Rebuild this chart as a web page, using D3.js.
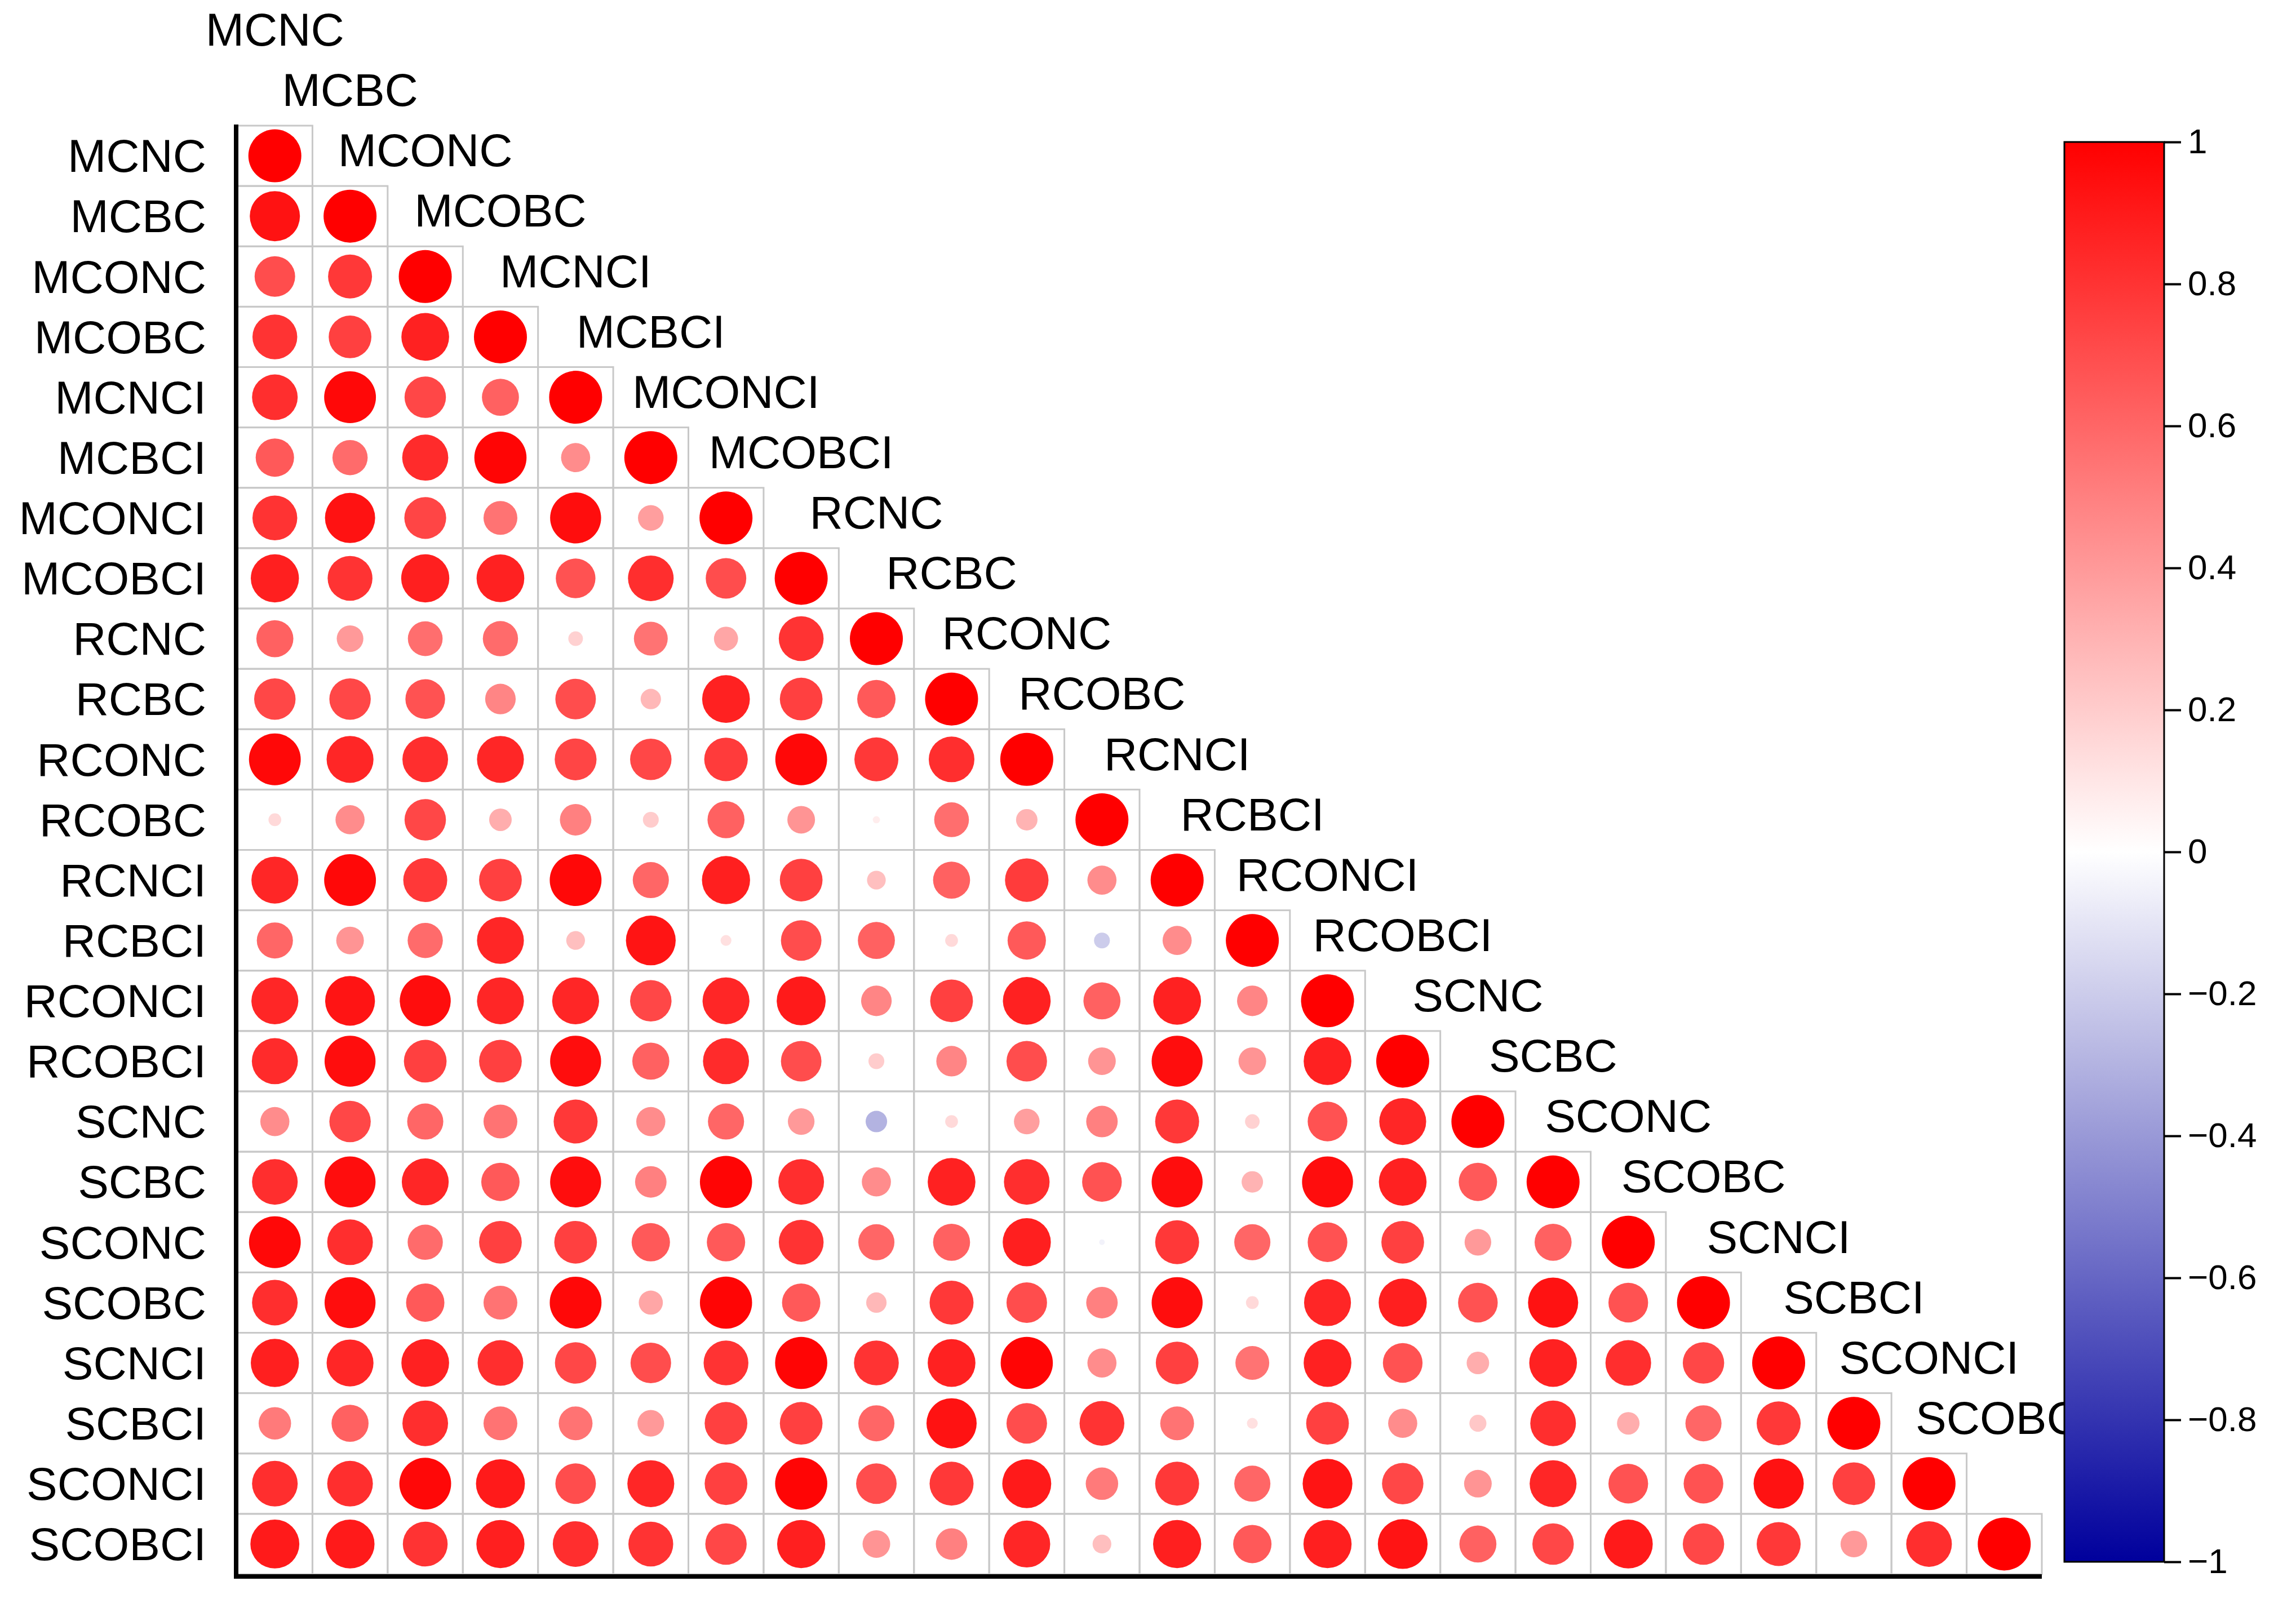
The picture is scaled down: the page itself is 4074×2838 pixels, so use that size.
<!DOCTYPE html>
<html>
<head>
<meta charset="utf-8">
<script src="https://cdn.jsdelivr.net/npm/d3@7"></script>
<style>
body { margin: 0; background: #fff; }
text { font-family: "Liberation Sans", Arial, sans-serif; }
</style>
</head>
<body>
<script>
var vars = ['MCNC','MCBC','MCONC','MCOBC','MCNCI','MCBCI','MCONCI','MCOBCI',
            'RCNC','RCBC','RCONC','RCOBC','RCNCI','RCBCI','RCONCI','RCOBCI',
            'SCNC','SCBC','SCONC','SCOBC','SCNCI','SCBCI','SCONCI','SCOBCI']

// lower triangle rows, diagonal included
var corr = [
  [1],
  [0.93, 1],
  [0.7, 0.78, 1],
  [0.8, 0.75, 0.87, 1],
  [0.82, 0.97, 0.72, 0.62, 1],
  [0.65, 0.58, 0.83, 0.98, 0.45, 1],
  [0.8, 0.93, 0.73, 0.55, 0.95, 0.38, 1],
  [0.88, 0.8, 0.88, 0.87, 0.68, 0.82, 0.7, 1],
  [0.62, 0.4, 0.57, 0.58, 0.18, 0.55, 0.35, 0.8, 1],
  [0.72, 0.72, 0.68, 0.48, 0.7, 0.28, 0.87, 0.75, 0.65, 1],
  [0.97, 0.85, 0.82, 0.85, 0.73, 0.72, 0.77, 0.97, 0.78, 0.82, 1],
  [0.15, 0.45, 0.72, 0.32, 0.5, 0.2, 0.62, 0.42, 0.07, 0.57, 0.3, 1],
  [0.85, 0.97, 0.78, 0.75, 0.97, 0.6, 0.88, 0.75, 0.25, 0.62, 0.77, 0.45, 1],
  [0.6, 0.42, 0.58, 0.85, 0.25, 0.92, 0.12, 0.7, 0.62, 0.15, 0.65, -0.2, 0.45, 1],
  [0.85, 0.92, 0.95, 0.85, 0.85, 0.72, 0.85, 0.9, 0.48, 0.75, 0.87, 0.62, 0.87, 0.48, 1],
  [0.83, 0.95, 0.75, 0.75, 0.95, 0.62, 0.83, 0.7, 0.2, 0.48, 0.7, 0.42, 0.95, 0.42, 0.87, 1],
  [0.45, 0.72, 0.6, 0.55, 0.78, 0.45, 0.6, 0.4, -0.3, 0.15, 0.38, 0.5, 0.78, 0.18, 0.68, 0.85, 1],
  [0.82, 0.95, 0.85, 0.65, 0.95, 0.5, 0.98, 0.82, 0.45, 0.87, 0.82, 0.68, 0.95, 0.3, 0.95, 0.87, 0.65, 1],
  [0.97, 0.82, 0.58, 0.75, 0.75, 0.65, 0.65, 0.8, 0.6, 0.62, 0.88, -0.05, 0.78, 0.6, 0.68, 0.75, 0.4, 0.62, 1],
  [0.82, 0.95, 0.65, 0.55, 0.97, 0.35, 0.98, 0.65, 0.28, 0.78, 0.7, 0.5, 0.95, 0.15, 0.85, 0.88, 0.68, 0.93, 0.68, 1],
  [0.88, 0.85, 0.87, 0.82, 0.72, 0.7, 0.8, 0.98, 0.8, 0.87, 0.98, 0.45, 0.75, 0.55, 0.87, 0.68, 0.32, 0.87, 0.82, 0.72, 1],
  [0.52, 0.62, 0.82, 0.55, 0.55, 0.4, 0.75, 0.75, 0.6, 0.93, 0.7, 0.8, 0.55, 0.12, 0.75, 0.45, 0.22, 0.82, 0.32, 0.6, 0.78, 1],
  [0.82, 0.82, 0.97, 0.9, 0.7, 0.85, 0.75, 0.98, 0.7, 0.78, 0.9, 0.52, 0.78, 0.6, 0.92, 0.72, 0.42, 0.85, 0.68, 0.68, 0.93, 0.75, 1],
  [0.9, 0.9, 0.8, 0.88, 0.82, 0.8, 0.72, 0.88, 0.42, 0.5, 0.85, 0.25, 0.88, 0.65, 0.88, 0.92, 0.62, 0.72, 0.9, 0.72, 0.78, 0.4, 0.82, 1]
]

var barTicks = [1, 0.8, 0.6, 0.4, 0.2, 0, -0.2, -0.4, -0.6, -0.8, -1]

var W = 4074, H = 2838
var n = vars.length

var x = d3.scaleLinear().domain([0, n]).range([421, 3623])
var y = d3.scaleLinear().domain([0, n]).range([223, 2794])
var cw = x(1) - x(0), ch = y(1) - y(0)

var color = d3.scaleLinear()
    .domain([-1, 0, 1])
    .range(['#00009c', '#ffffff', '#ff0000'])
var rad = d3.scalePow().exponent(0.75).domain([0, 1]).range([0, 47])

var cells = []
corr.forEach(function(row, i) {
  row.forEach(function(v, j) { cells.push({i: i, j: j, v: v}) })
})

var svg = d3.select('body').append('svg')
    .attr('width', W).attr('height', H)

var g = svg.append('g')

g.selectAll('rect.cell')
    .data(cells).enter()
  .append('rect')
    .attr('x', function(d) { return x(d.j) })
    .attr('y', function(d) { return y(d.i) })
    .attr('width', cw).attr('height', ch)
    .attr('fill', 'none')
    .attr('stroke', '#c8c8c8')
    .attr('stroke-width', 3)

g.selectAll('circle')
    .data(cells).enter()
  .append('circle')
    .attr('cx', function(d) { return x(d.j + 0.5) })
    .attr('cy', function(d) { return y(d.i + 0.5) })
    .attr('r', function(d) { return rad(Math.abs(d.v)) })
    .attr('fill', function(d) { return color(d.v) })

// row labels
g.selectAll('text.row')
    .data(vars).enter()
  .append('text')
    .attr('x', 366)
    .attr('y', function(d, i) { return y(i + 0.5) })
    .attr('dy', '0.35em')
    .attr('text-anchor', 'end')
    .attr('font-size', 82)
    .text(function(d) { return d })

// column labels, stepped along the diagonal
g.selectAll('text.col')
    .data(vars).enter()
  .append('text')
    .attr('x', function(d, i) { return x(i + 0.5) })
    .attr('y', function(d, i) { return y(i - 1.5) - 10 })
    .attr('dy', '0.35em')
    .attr('text-anchor', 'middle')
    .attr('font-size', 82)
    .text(function(d) { return d })

// axes lines
g.append('line')
    .attr('x1', x(0) - 2).attr('x2', x(0) - 2)
    .attr('y1', y(0) - 2).attr('y2', y(n) + 6)
    .attr('stroke', '#000').attr('stroke-width', 8)
g.append('line')
    .attr('x1', x(0) - 6).attr('x2', x(n))
    .attr('y1', y(n) + 4).attr('y2', y(n) + 4)
    .attr('stroke', '#000').attr('stroke-width', 8)

// colour bar
var bx = 3663, bw = 177
var by = d3.scaleLinear().domain([1, -1]).range([252, 2772])

var defs = svg.append('defs')
var grad = defs.append('linearGradient')
    .attr('id', 'cbar').attr('x1', 0).attr('x2', 0).attr('y1', 0).attr('y2', 1)
grad.selectAll('stop')
    .data(d3.range(1, -1.001, -0.1)).enter()
  .append('stop')
    .attr('offset', function(d) { return (1 - d) / 2 })
    .attr('stop-color', function(d) { return color(d) })

var cb = svg.append('g')
cb.append('rect')
    .attr('x', bx).attr('y', by(1))
    .attr('width', bw).attr('height', by(-1) - by(1))
    .attr('fill', 'url(#cbar)')
    .attr('stroke', '#000').attr('stroke-width', 3)

cb.append('g')
    .attr('transform', 'translate(' + (bx + bw) + ',0)')
    .call(d3.axisRight(by).tickValues(barTicks).tickSize(30).tickPadding(12)
      .tickFormat(function(d) { return d < 0 ? '\u2212' + Math.abs(d) : String(d) }))
    .call(function(a) {
      a.select('.domain').remove()
      a.selectAll('line').attr('stroke-width', 4)
      a.selectAll('text').attr('font-size', 62)
        .attr('font-family', '"Liberation Sans", Arial, sans-serif')
    })
</script>
</body>
</html>
